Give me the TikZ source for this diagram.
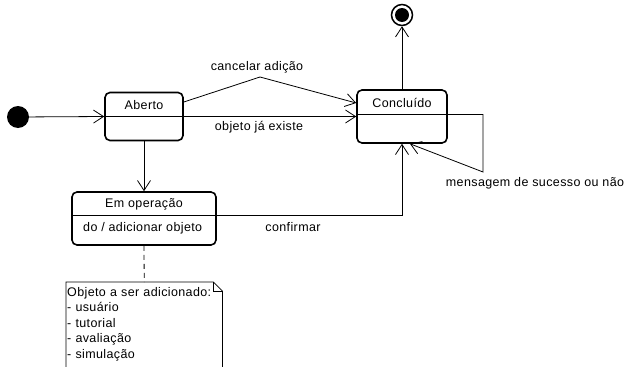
\documentclass[tikz,border=0pt]{standalone}
\usepackage{fontspec}
\setmainfont{Liberation Sans}[LetterSpace=3]
\usetikzlibrary{arrows.meta,calc}
\begin{document}
\begin{tikzpicture}[x=1pt,y=-1pt,
  font=\fontsize{12.5}{15.5}\selectfont,
  state/.style={draw, line width=1.6pt, rounded corners=5pt, inner sep=0pt},
  conn/.style={line width=0.8pt, -{Straight Barb[length=10pt,width=13pt,line width=0.8pt]}},
  plain/.style={line width=0.8pt},
  lbl/.style={inner sep=0pt}]
\useasboundingbox (0,0) rectangle (627,367);
% initial and final
\node[circle, fill=black, minimum size=22pt, inner sep=0pt] (init) at (18,117) {};
\node[circle, draw, line width=1.5pt, minimum size=21pt, inner sep=0pt] (fin) at (402,15) {};
\fill (fin.center) circle (7pt);
% states
\node[state, minimum width=78pt, minimum height=48pt] (ab) at (144,116.5) {};
\node[lbl] (abt) at ($(ab.north)+(0,13.5)$) {Aberto};
\draw[plain] (ab.west |- 0,116) -- (ab.east |- 0,116);
\node[state, minimum width=90pt, minimum height=53pt] (co) at (402,116.5) {};
\node[lbl] (cot) at ($(co.north)+(0,14)$) {Concluído};
\draw[plain] (co.west |- 0,114) -- (co.east |- 0,114);
\node[state, minimum width=144pt, minimum height=53pt] (em) at (144,218.5) {};
\node[lbl] (emt) at ($(em.north)+(0,13)$) {Em operação};
\draw[plain] (em.west |- 0,215) -- (em.east |- 0,215);
\node[lbl, anchor=west] (emd) at (83,228) {do / adicionar objeto};
% note
\node[anchor=north west, inner sep=1pt, align=left, minimum width=156pt, text width=154pt] (note) at (66,282) {\rule{0pt}{13pt}Objeto a ser adicionado:\\- usuário\\- tutorial\\- avaliação\\- simulação};
\coordinate (nfold) at ($(note.north east)+(-9,0)$);
\coordinate (nfold2) at ($(note.north east)+(0,9)$);
\draw[plain] (note.west |- 0,372) -- (note.north west) -- (nfold) -- (nfold2) -- (note.east |- 0,372);
\draw[plain] (nfold) -- (nfold |- nfold2) -- (nfold2);
% connectors
\draw[conn] (init) -- (ab.west);
\coordinate (apex) at (260,77);
\draw[conn] ($(ab.east)+(0,-14.5)$) -- (apex) -- ($(co.west)+(0,-13.5)$);
\node[lbl] (l1) at (257,67) {cancelar adição};
\draw[conn] (ab.east) -- (co.west);
\node[lbl] (l2) at (259,127) {objeto já existe};
\draw[conn] (co.north) -- (fin.south);
\coordinate (lp) at (483,172);
\draw[conn] ($(co.east)+(0,-2)$) -| (lp) -- ($(co.south)+(8,0)$);
\node[lbl] (l3) at (535,183) {mensagem de sucesso ou não};
\draw[conn] (ab.south) -- (em.north);
\draw[conn] ($(em.east)+(0,-3.5)$) -| (co.south);
\node[lbl] (l4) at (293,227) {confirmar};
\draw[plain, dashed, dash pattern=on 5pt off 4pt] (em.south) -- (note.north);
\end{tikzpicture}
\end{document}
